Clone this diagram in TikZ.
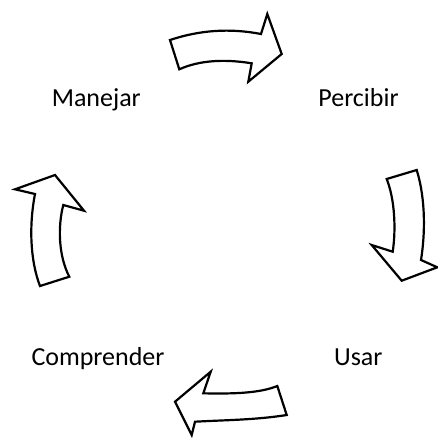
\documentclass[tikz,border=0pt]{standalone}
\usepackage{fontspec}
\setmainfont{Carlito}
\begin{document}
\begin{tikzpicture}[x=1pt,y=-1pt,
  lbl/.style={anchor=base,inner sep=0pt,font=\fontsize{26}{30}\selectfont},
  bigarrow/.style={draw=black,fill=white,line width=2.2pt,line join=miter}]
\useasboundingbox (0,0) rectangle (438,437);
% labels
\node[lbl] (manejar) at (96.3,106.7) {Manejar};
\node[lbl] (percibir) at (358.5,106.7) {Percibir};
\node[lbl] (usar) at (358.3,365.3) {Usar};
\node[lbl] (comprender) at (98,365.3) {Comprender};
% top arrow
\draw[bigarrow] (170,40) .. controls (200,30) and (230,28) .. (261,34)
  -- (267.3,14) -- (281.7,54) -- (248.3,81.7) -- (251.7,63.3)
  .. controls (225,59) and (200,60) .. (179.3,69.3) -- cycle;
% right arrow
\draw[bigarrow] (386.7,179) -- (416.7,170)
  .. controls (426,200) and (425,235) .. (421,260)
  -- (437.3,267.3) -- (401.7,280.7) -- (371.7,245) -- (392.7,251.7)
  .. controls (396,230) and (395,200) .. cycle;
% bottom arrow
\draw[bigarrow] (277.3,386) -- (286.7,415)
  .. controls (255,420) and (225,420) .. (195,421.7)
  -- (191.7,435) -- (175,401.7) -- (210.7,371.7) -- (203.3,393.3)
  .. controls (235,394) and (260,393) .. cycle;
% left arrow
\draw[bigarrow] (40,286) -- (69.3,276.7)
  .. controls (58,255) and (58,225) .. (63.3,205)
  -- (84,210.7) -- (55,175) -- (15,189.3) -- (35,194)
  .. controls (29,225) and (30,260) .. cycle;
\end{tikzpicture}
\end{document}
